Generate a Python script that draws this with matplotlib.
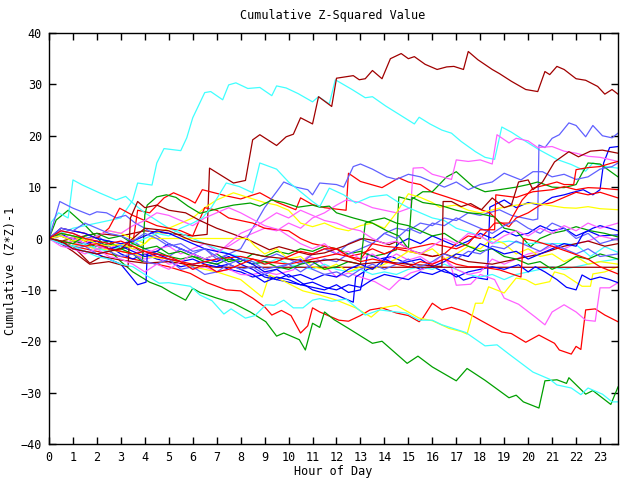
import matplotlib
matplotlib.use("Agg")
import matplotlib.pyplot as plt

plt.rcParams['font.family'] = ['DejaVu Sans Mono']

# colours used by the plotting program
RED = '#ff0000'
GREEN = '#00a000'
BLUE = '#0000ff'
MAGENTA = '#ff60ff'
CYAN = '#40ffff'
DKRED = '#a00000'
YELLOW = '#ffff00'
SLATE = '#6060ff'

title = 'Cumulative Z-Squared Value'
xlabel = 'Hour of Day'
ylabel = 'Cumulative (Z*Z)-1'
xticks = list(range(0, 24))
yticks = [-40, -30, -20, -10, 0, 10, 20, 30, 40]

# (hour, value) pairs, one list per walk
dr_top = [(0,0),(0.5,-0.5),(1,0),(2,1),(3,0.5),(4,1.5),(5,1),(6,0.5),(6.6,0.8),(6.7,13.7),(7.7,10.8),(8.2,11.3),
          (8.5,19.2),(8.8,20.2),(9.5,18.1),(9.9,19.8),(10.2,20.3),(10.5,23.5),(11,22.3),(11.25,27.6),(11.8,25.7),
          (12,31.2),(12.7,31.7),(12.95,30.9),(13.2,31.1),(13.5,32.7),(13.9,31.1),(14.25,35),(14.7,36),(15,35),
          (15.25,35.4),(15.7,33.9),(16.2,32.9),(16.6,33.4),(16.9,33.5),(17.3,32.9),(17.5,36.4),(17.9,34.8),
          (18.5,32.9),(18.8,32.1),(19.3,30.6),(19.9,29),(20.4,28.6),(20.7,32.5),(20.9,31.9),(21.2,33.5),
          (21.5,32.9),(22,31.1),(22.4,30.8),(22.9,29.6),(23.2,28.1),(23.5,29),(23.75,28.1)]
dr_flat = [(0,0),(0.5,-0.8),(1,-1.5),(1.7,-4.8),(2.2,-3.5),(3,-4.2),(4,-4.8),(5,-4.5),(6,-5.2),(7,-5.6),(23.75,-5.6)]
dr_jump = [(0,0),(0.5,-1),(1,-2.5),(1.7,-5),(2.5,-4.5),(3.3,-5.5),(3.4,4),(3.7,7.2),(4,6),(4.5,6.5),(5,5.5),
           (5.7,5),(6.3,3.5),(7,2),(7.6,1),(8.35,-0.3),(9.2,-2.2),(9.6,-1.6),(10.3,-2.5),(10.9,-3.2),(11.5,-2.8),
           (12.3,-1.5),(13.1,0),(13.7,-0.5),(14.2,-1.2),(14.5,-0.6),(15.2,-2.5),(16,-3.5),(16.5,-3),(17.5,-4.5),
           (18.5,-5),(19.5,-4),(20.5,-3),(21.5,-1.5),(22.5,-0.5),(23.2,-1.5),(23.75,-1)]
dr_late = [(0,0),(0.5,-0.5),(1,-2),(2,-3),(3,-2),(3.5,0),(4,2),(5,1.5),(6,-0.5),(7,-1.5),(8,-2.5),(9,-3.5),
           (10,-4),(11,-4.5),(12,-4),(13,-5),(14,-4.5),(15,-5),(16,-5.3),(16.4,-5.5),(16.45,7.2),(16.8,7.2),
           (17.2,6.2),(17.6,6.8),(18.05,5.6),(18.5,7.9),(19,6),(19.3,6.5),(19.6,11),(20,11.4),(20.2,9.5),
           (20.6,11),(21.1,14.9),(21.7,16.9),(22.1,15.9),(22.6,17),(23.1,17.2),(23.75,16.6)]

r_low = [(0,0),(1,-1.5),(2,-2.5),(3,-3.5),(4,-4.5),(5,-5.5),(5.9,-6.8),(6.6,-8.6),(7.4,-10),(8,-10.2),(8.5,-11.6),
         (9,-13.3),(9.3,-14.9),(9.7,-14),(10.1,-15),(10.5,-18.4),(10.8,-17),(11,-13.5),(11.3,-14.3),(12.1,-15.9),
         (12.5,-16.1),(13,-15),(13.4,-13.9),(13.9,-13.5),(14.5,-14.5),(15,-15),(15.45,-16.2),(15.6,-15.5),
         (16,-12.6),(16.4,-13.9),(16.8,-13.4),(17.4,-14.3),(18,-15.9),(18.9,-18.2),(19.3,-18.5),(19.9,-20.2),
         (20.45,-18.8),(21.1,-20.4),(21.3,-21.7),(21.8,-22.5),(22.0,-21),(22.2,-21.6),(22.4,-13.9),(22.8,-13.7),
         (23.2,-14.9),(23.75,-16.2)]
r_mid = [(0,0),(0.5,1),(1,0.5),(1.5,-0.5),(2,-1.5),(2.5,-2),(3,-2),(3.5,-1),(3.7,5.5),(4.2,5),(4.8,7.9),(5.2,8.9),
         (5.8,7.7),(6.1,6.9),(6.4,9.5),(7.4,8.3),(8,7.7),(8.8,8.9),(9.5,7.1),(10.3,5.6),(10.5,7.9),(11,6.6),
         (11.5,6),(12.4,5.5),(12.5,12.7),(13,11.1),(13.9,9.9),(14.6,11.8),(15,11),(15.5,10.5),(16,9),(16.6,8.1),
         (17.3,7),(17.8,6),(18.4,5),(18.8,3.2),(19.2,2.3),(19.5,4),(20,5),(20.5,6.5),(21,7),(21.5,8),(22,9),
         (22.5,8.5),(23,9),(23.75,7.9)]
r_15 = [(0,0),(0.5,2),(1,1.5),(1.5,1),(2,0),(2.5,2),(2.95,5.9),(3.5,4.5),(4,3.5),(4.5,2.5),(5,2),(5.5,1.5),
        (6,0.5),(6.5,6),(7,5.5),(7.5,4),(8,3.5),(8.5,3),(9,2),(10,1.5),(10.5,0),(11,-1),(12,-2),(12.5,-3.5),
        (13,-3),(13.5,-2),(14,-3),(14.5,-2),(15,-2.5),(15.5,-3),(16,-3.5),(16.5,-3),(17,-1),(17.5,0.5),(18,0),
        (18.6,3),(19.2,3),(19.75,7.5),(20.2,9.8),(20.8,10.5),(21.2,11),(21.5,10.5),(21.9,10.5),(22,13.4),
        (22.5,13.8),(23,14),(23.5,14.7),(23.75,15)]
r_9 = [(0,0),(0.5,-0.5),(1,-1),(1.5,-1.5),(2,-1),(2.5,-2),(3,-2.5),(3.5,-3),(4,-2.5),(4.5,-3.5),(5,-4),
       (5.5,-4.5),(6,-5),(7,-4),(8,-3.5),(9,-4.5),(10,-5),(11,-4),(12,-3),(13,-4),(13.5,-1),(14,-1.5),(15,-2),
       (16,-1),(17,-2),(17.5,-1),(18,1.7),(18.6,1.7),(18.65,8.5),(19.5,8),(20.2,9.1),(21,9.5),(21.5,10.1),
       (22,9.5),(22.5,9.9),(23,9.8),(23.75,9.5)]
r_m7 = [(0,0),(0.5,1.5),(1,1),(1.5,0),(2,-0.5),(2.5,-1),(3,-0.5),(3.5,-1.5),(4,-2.5),(4.5,-3),(5,-3.5),
        (5.5,-4.5),(6,-6),(6.5,-5),(7,-6.5),(7.5,-6),(8,-5),(8.5,-4),(9,-5),(9.5,-4.5),(10,-3.5),(10.5,-2.5),
        (11,-3),(11.5,-2),(12,-2),(12.5,-3.5),(13,-4.5),(13.5,-4),(14,-4.5),(14.5,-5),(15,-5.5),(15.5,-4.5),
        (16,-5),(16.5,-4),(17,-5),(17.5,-5.5),(18,-5.5),(18.8,-6.1),(19.7,-7.5),(19.8,0),(20.3,-0.5),(21,-1.5),
        (21.8,-2.8),(22.5,-4),(23,-5.5),(23.75,-6.9)]

g_bot = [(0,0),(0.3,3.6),(0.8,5.5),(1.5,2.6),(2.1,-0.3),(3,-4.5),(3.5,-6.5),(4.2,-8.5),(4.7,-9.4),(5.1,-10.5),
         (5.7,-12),(6,-9.7),(6.3,-10.5),(7,-11.6),(7.7,-12.6),(8.4,-14.3),(9.05,-16.2),(9.5,-19),(9.8,-18.4),
         (10.45,-19.7),(10.7,-21.7),(11,-16.5),(11.3,-17.3),(11.5,-14.3),(11.9,-15.8),(12.5,-17.5),(13.5,-20.4),
         (13.9,-20),(14.95,-24.3),(15.4,-22.9),(16,-25),(17,-27.7),(17.45,-25.3),(18.2,-27.6),(19.2,-31),
         (19.5,-30.5),(19.8,-31.8),(20.45,-33),(20.7,-27.7),(21.2,-27.5),(21.6,-28.2),(21.7,-27.1),(22.4,-30.3),
         (22.7,-29.6),(23.45,-32.3),(23.75,-28.9)]
g_12 = [(0,0),(0.5,0.5),(1,-0.5),(1.5,-1),(2,-1.5),(2.5,-1),(3,-2),(3.5,-1.5),(4,-3),(4.5,-2.5),(5,-3.5),
        (5.5,-4),(6,-3.5),(6.5,-4.5),(7,-5),(7.5,-4),(8,-4.5),(8.5,-3),(9,-3.5),(9.5,-2.5),(10,-3),(10.5,-2),
        (11,-2.5),(11.5,-1.5),(12,-2),(12.5,-3),(13,-2.5),(13.5,-3.5),(14,-3),(14.5,-2.2),(14.6,8.1),(15.1,7.5),
        (15.6,9.1),(16,9.1),(16.6,12),(17,13),(17.7,10.1),(18.2,9.1),(18.8,9.5),(19.5,10),(20,10.5),(20.4,11),
        (21,10),(21.5,9.9),(22,10.5),(22.25,12.7),(22.5,14.7),(23,14.5),(23.3,13.5),(23.75,12)]
g_up = [(0,0),(0.5,1),(1,0.5),(1.5,0),(2,-1),(2.5,-0.5),(3,-2),(3.5,-3),(3.9,-4.5),(4,4.6),(4.1,6.5),(4.5,8.1),
        (4.9,8.5),(5.3,8),(5.8,6.3),(6.3,4.9),(6.8,5.5),(7.2,6),(7.7,6.5),(8.4,6.9),(8.8,6.3),(9.3,7.5),(9.8,7),
        (10.4,6.1),(11,6.5),(11.3,6.1),(11.7,6.3),(12,5),(12.7,4),(13.5,3),(14.1,1.5),(14.6,0.5),(15,-2),
        (15.15,8),(15.6,7),(16.3,6.5),(17,5.5),(17.5,5),(18,4.8),(18.6,4.2),(19,2),(19.5,1.5),(20.1,-1.6),
        (20.5,0),(21,1),(21.5,1.5),(22,2.3),(22.6,1.5),(23.2,1),(23.75,0.3)]
g_4 = [(0,0),(0.5,-0.5),(1,-1),(1.5,0.5),(2,1),(2.5,0),(3,0.5),(3.5,-1),(4,-2),(4.5,-1.5),(5,-3),(5.5,-2.5),
       (6,-3.5),(6.5,-4),(7,-3),(7.5,-4.5),(8,-4),(8.5,-5),(9,-4.5),(9.5,-5.5),(10,-6),(10.5,-5),(11,-4.5),
       (11.5,-6),(12,-5.5),(12.5,-4.5),(13,-5),(13.2,3),(13.5,3.5),(14,4),(14.5,3),(15,2.5),(15.5,1.5),(16,0.5),
       (16.5,1),(17,-0.5),(17.5,-1.5),(18,-2.5),(18.5,-2),(19,-3.5),(19.5,-4),(20,-5),(20.5,-4.5),(21,-6),
       (21.5,-5),(22,-3.5),(22.5,-4),(23,-3),(23.75,-4)]

b_18 = [(0,0),(0.5,1),(1,-0.5),(1.5,-1),(2,-2),(2.5,-1.5),(3,-3),(3.5,-4),(4,-3),(4.5,-4),(5,-4.5),(5.5,-5.5),
        (6,-5),(6.5,-4.5),(7,-5),(7.5,-6),(8,-6.5),(8.5,-7.5),(9,-7),(9.5,-8),(10,-8.5),(10.5,-9),(11,-9.5),
        (11.5,-10),(12,-9),(12.5,-10.5),(13,-10),(13.3,-3),(13.8,-4),(14.3,-3.5),(15,-5),(15.5,-6),(16,-5.5),
        (16.5,-6.5),(17,-7),(17.3,-8.1),(17.7,-7.5),(18.3,-8),(18.4,6.1),(19,7.5),(19.5,6),(20,7),(20.5,6.5),
        (21,8),(21.5,8.5),(21.8,8.9),(22.3,9.5),(22.7,8.5),(23,9.5),(23.15,14.7),(23.4,17.7),(23.75,17.9)]
b_1 = [(0,0),(0.5,-1),(1,-2),(1.5,-2.5),(2,-3),(2.5,-4),(3,-5),(3.7,-9),(4.05,-8.5),(4.1,-3),(4.5,-2.5),(5,-1),
       (5.5,-2),(6,-3),(6.5,-4),(7,-4.5),(7.5,-3.5),(8,-5),(8.5,-6),(9,-7.5),(9.5,-8),(10,-7),(10.5,-8.5),
       (11,-10),(11.3,-10.4),(12,-11),(12.7,-12.4),(12.8,-7.5),(13.3,-6),(13.8,-5.5),(14.2,-3),(14.6,-1),(15,0),
       (15.5,-1),(16,0.5),(16.5,-0.5),(17,-1.5),(17.5,-0.5),(18,1),(18.5,0),(19,1.5),(19.5,0.5),(20,1),
       (20.5,2.5),(21,1.5),(21.5,2),(22,0.5),(22.5,1.5),(23,0.5),(23.75,0.7)]
b_m9 = [(0,0),(0.5,0.5),(1,0),(1.5,-1),(2,-0.5),(2.5,-2),(3,-1.5),(3.5,-2.5),(4,-3.5),(4.5,-3),(5,-4),(5.5,-4.5),
        (6,-4),(6.5,-5),(7,-5.5),(7.5,-5),(8,-6),(8.5,-7),(9,-8.5),(9.5,-7.5),(10,-8),(10.5,-9),(11,-8.5),
        (11.5,-9.5),(12,-10),(12.5,-9),(13,-9.5),(13.5,-8),(14,-7),(14.5,-7.5),(15,-8),(15.5,-6.5),(16,-7),
        (16.5,-6),(17,-7.5),(17.5,-6.5),(18,-6),(18.5,-5.5),(19,-6),(19.6,-5.1),(20,-6.5),(20.3,-5.5),(20.7,-6.5),
        (21.2,-8),(21.6,-9.5),(22,-10),(22.25,-7.1),(22.6,-8),(23,-7.5),(23.4,-8),(23.75,-8.6)]
b_4 = [(0,0),(0.5,2),(1,1.5),(1.5,1),(2,0),(2.5,-0.5),(3,-1),(3.5,-0.5),(4,0.5),(4.5,1.5),(5,1),(5.5,0),(6,-1),
       (6.5,-2),(7,-2.5),(7.5,-3),(8,-4),(8.5,-5),(9,-6.5),(9.5,-6),(10,-7.5),(10.5,-7),(11,-8),(11.5,-7),
       (12,-7.5),(12.5,-6),(13,-5),(13.5,-6),(14,-4),(14.5,-5),(15,-4.5),(15.5,-4),(16,-5.5),(16.5,-4.5),(17,-3),
       (17.5,-3.5),(18,-1),(18.5,-2),(19,-3),(19.5,-2.5),(20,-4),(20.5,-3),(21,-2),(21.5,-1),(22,-1.5),(22.3,1),
       (22.7,2),(23,2.5),(23.4,2),(23.75,1.5)]

m_low = [(0,0),(0.5,-1),(1,-0.5),(1.5,-1.5),(2,-2),(2.5,-1),(3,-2.5),(3.5,-3),(4,-4),(4.5,-3.5),(5,-5),
         (5.5,-4.5),(6,-6),(6.5,-5.5),(7,-6.5),(7.5,-6),(8,-7),(8.4,-7.1),(9,-6.5),(9.5,-7),(10.2,-6.1),
         (10.8,-3.5),(11.2,-4),(12,-7.5),(12.5,-6.7),(13,-7.5),(13.6,-8.4),(14.2,-10),(14.6,-8.2),(15.1,-6.7),
         (15.6,-6),(16,-5),(16.4,-3.2),(16.8,-5.7),(17,-9.1),(17.6,-8.9),(18,-7),(18.6,-8),(19,-11.6),(19.6,-12.8),
         (20.3,-15.3),(20.7,-16.8),(21,-14.3),(21.5,-12.9),(22,-14.3),(22.4,-15.9),(22.8,-16.1),(23,-9.6),
         (23.4,-9.6),(23.75,-8.6)]
m_up = [(0,0),(0.5,-0.5),(1,-1),(1.5,0),(2,-1.5),(2.5,-2),(3,-1),(3.5,-2),(4,-3),(4.5,-2),(5,-1.5),(5.5,-3),
        (6,-2),(6.5,-1),(7,-2.5),(7.5,-1.5),(8,0),(8.5,1),(9,2),(9.5,1.5),(10,3),(10.5,2),(11,4),(11.5,5),
        (12,6.5),(12.4,7.5),(13,7),(13.5,6),(14,5.5),(14.5,5),(15.1,6),(15.2,13.7),(15.6,13.8),(16,12.5),
        (16.8,11.5),(17,15.3),(17.5,15),(18,15.3),(18.5,14.5),(18.7,20.2),(19.2,18.6),(19.5,19.5),(20,19),
        (20.4,17.7),(21,17.9),(21.5,17),(22,16.6),(22.5,16),(23,15.8),(23.75,15)]
m_3 = [(0,0),(0.5,0.5),(1,0),(1.5,-1),(2,0.5),(2.5,1.5),(3,1),(3.5,2.5),(4,3.5),(4.5,5),(5,4.5),(5.5,3.5),
       (6,2.5),(6.5,4),(7,5),(7.5,6),(8,5),(8.6,3.5),(9,2.5),(9.6,1.7),(10,0.5),(10.5,-1),(11,-2),(11.5,-1),
       (12,-3),(12.5,-2.5),(13,-4),(13.5,-3),(14,-4.5),(14.5,-3),(15,-4.2),(15.5,-3.5),(16,-5),(16.5,-4),(17,-6),
       (17.5,-7),(18,-6.5),(18.5,-4),(19,-5),(19.5,-4),(20,-3),(20.5,-2.5),(21,-1.5),(21.5,-2),(22,-1),
       (22.5,-0.5),(23,0.5),(23.75,-0.3)]
m_4 = [(0,0),(0.5,-1.5),(1,-2),(1.5,-3),(2,-2),(2.5,-3.5),(3,-4),(3.5,-5),(4,-6.5),(4.5,-5),(5,-6),(5.5,-4.5),
       (6,-3),(6.5,-4),(7,-3),(7.5,-1),(8,1),(8.5,2),(9,3.5),(9.5,5),(10,4),(10.5,5.5),(11,4.5),(11.5,3.5),
       (12,3),(12.5,2),(13,1.5),(13.5,0),(14,-1),(14.5,-0.5),(15,-2),(15.5,-3),(16,-1.5),(16.5,0),(17,-1),
       (17.5,1),(18,0.5),(18.5,-1),(19,0.5),(19.5,1.5),(20,0.5),(20.5,2),(21,1),(21.5,2.5),(22,1.5),(22.5,3),
       (23,2),(23.75,3)]

c_top = [(0,0),(1,2),(2,3),(3,4),(3.5,7.5),(3.7,10.8),(4.3,10.4),(4.5,14.7),(4.8,17.5),(5.5,17.1),(5.75,19.6),
         (6,23.5),(6.5,28.4),(6.75,28.6),(7.25,27),(7.5,29.9),(7.8,30.3),(8.3,29.2),(8.8,29.4),(9.3,27.8),
         (9.5,29.7),(9.9,29.3),(10.4,28.2),(11,26.6),(11.25,27.6),(11.7,26.2),(11.95,30.9),(12.65,29),(13.2,27.4),
         (13.5,27.6),(14.05,25.8),(14.6,24.2),(15.25,22.3),(15.45,23.6),(15.9,22.3),(16.4,21.1),(16.8,20.5),
         (17.2,18.9),(17.8,16.9),(18.2,15.8),(18.6,15.4),(18.9,21.7),(19.3,20.7),(19.9,18.9),(20.45,17.3),
         (21.2,15.4),(21.8,14.4),(22.4,13.1),(22.7,14.7),(23.2,14),(23.75,13.7)]
c_2 = [(0,0),(0.1,3.2),(0.4,5),(0.8,4),(1,11.4),(1.4,10.4),(2.1,8.9),(2.8,7.5),(3.2,8.2),(3.5,6.9),(4,5),
       (4.5,3.5),(5,2),(5.5,1),(6,0),(6.5,-1),(7,-2),(7.5,-3),(8,-3.5),(8.5,-4.5),(9,-5),(9.5,-4),(10,-5),
       (10.5,-5.5),(11,-6),(11.5,-5),(12,-6),(12.5,-6.5),(13,-6),(13.5,-7),(14,-6.5),(14.5,-7),(15,-6),
       (15.5,-5.5),(16,-6),(16.5,-5),(17,-6),(17.5,-7),(18,-7.5),(18.5,-7),(19,-8),(19.5,-7),(20,-6.5),
       (20.5,-6),(21,-5.5),(21.5,-6),(22,-5.5),(22.5,-5),(23,-4.5),(23.75,-4)]
c_3 = [(0,0),(0.5,-1),(1,-1.5),(1.5,-1),(2,-2),(2.5,-2.5),(3,-1.5),(3.5,-1),(4,0),(4.5,1),(5,0.5),(5.5,2),
       (6,3),(6.4,4),(6.8,6.2),(7.4,10.8),(7.95,10.1),(8.5,8.9),(8.8,14.7),(9.5,13.5),(10,11),(10.5,9.1),
       (11,7.2),(11.3,6.2),(11.7,9.8),(12.3,8.5),(12.8,6.9),(13.4,8.1),(14.1,8.5),(14.6,7),(15,6),(15.5,5),
       (16,4),(16.5,3.5),(17,2),(17.7,1),(18.6,-0.9),(19.2,-0.5),(19.8,-1),(20.45,-0.9),(21,-1),(21.5,-1),
       (22,-1.2),(22.6,-3.5),(23.2,-1.6),(23.75,-2.7)]
c_bot = [(0,0),(0.5,-1),(1,-1.5),(1.5,-2.5),(2,-3.5),(2.5,-4),(3,-5),(3.5,-5.5),(4,-7),(4.6,-8.7),(5,-8.6),
         (5.5,-9),(5.9,-9.3),(6.3,-11),(6.8,-12.1),(7.3,-14.7),(7.6,-13.7),(8.2,-15.5),(8.6,-15),(9.05,-12.9),
         (9.4,-13),(9.8,-12),(10.2,-13.5),(10.6,-13.5),(11,-12),(11.3,-11.7),(11.8,-12.2),(12.4,-11.8),
         (13.2,-14.9),(13.8,-13.9),(14.5,-14.3),(14.9,-14.5),(15.45,-15.9),(16,-15.9),(16.4,-16.8),(17.4,-18.3),
         (18.2,-20.9),(18.7,-20.7),(19.2,-22.5),(20.2,-26),(20.9,-27.4),(21.2,-28.5),(21.8,-29.1),(22.2,-30.4),
         (22.5,-29.1),(23.1,-30.3),(23.5,-31.8),(23.75,-31.8)]

y_low = [(0,0),(1,-1),(2,-2),(3,-2.5),(4,-3.5),(5,-4),(6,-5.5),(7,-6.5),(8,-8),(8.9,-11.4),(9.2,-7.1),(9.8,-8.3),
         (10.6,-10.2),(11.3,-11),(12,-12),(12.8,-13.5),(13.45,-15.3),(13.9,-13.5),(14.5,-13),(15.45,-15.5),
         (16,-16),(16.7,-17.5),(17.2,-18.1),(17.45,-18.6),(17.8,-12.6),(18.1,-12.6),(18.35,-9.4),(19,-10.6),
         (19.5,-7.7),(19.9,-8),(20.3,-9),(20.9,-8.4),(21.1,-6.5),(21.5,-7),(22.25,-9.3),(22.6,-9.3),(22.7,-6.9),
         (23.2,-6.5),(23.75,-5.5)]
y_6 = [(0,0),(0.5,1),(1,0.5),(1.5,-0.5),(2,0.5),(2.5,1.5),(3,1),(3.5,0),(4,-1),(4.5,1),(5,2),(5.5,3),(6,4),
       (6.5,6),(7,7.5),(7.7,8.9),(8.3,8),(9,7),(9.5,6.5),(10,5.5),(10.5,3),(11,2.3),(11.5,3),(12,2),(12.5,1.5),
       (13,2.5),(13.5,3),(14,2),(14.5,5),(15,8.7),(15.5,8),(16,7),(16.3,6.1),(17,6.5),(17.5,5.5),(18,5),
       (18.8,5.9),(19.5,6.5),(20.2,6.9),(20.8,6.5),(21.5,6),(22,5.9),(22.5,6.2),(23,5.8),(23.75,5.6)]
y_0 = [(0,0),(0.5,0.5),(1,-0.5),(1.5,0),(2,-1),(2.5,-1.5),(3,-1),(3.5,-2),(4,-1),(4.2,0),(8.3,0),(8.6,-1.5),
       (9,-3),(9.5,-2),(10,-4),(10.5,-3.5),(11,-5.5),(11.5,-6),(12,-5),(12.5,-6.5),(13,-5.5),(13.5,-6),(14,-5),
       (14.5,-4),(15,-2.5),(15.5,-3),(16,-2),(16.5,-4),(17,-3),(17.5,-1.5),(18,-2),(18.5,0),(19,-1),(19.5,-3),
       (20,-2),(20.5,-3.5),(21,-3),(21.5,-4.5),(22,-3.5),(22.5,-5),(23,-4.5),(23.75,-5)]

sb_20 = [(0,0),(0.5,1.5),(1,1),(1.5,0),(2,0.5),(2.5,-1),(3,-1.5),(3.5,-0.5),(4,-2),(4.5,-3),(5,-3.5),(5.5,-2),
         (6,-3),(6.5,-4),(7,-4.5),(7.5,-3),(8,-4),(8.5,-5),(9,-4),(9.5,-3),(10,-4),(10.5,-5),(11,-3),(11.5,-2),
         (12,-3),(12.5,-1),(13,0),(13.5,-1),(14,1),(14.5,2),(15,1.5),(15.5,3),(16,2.5),(16.5,4),(17,3.5),(17.5,5),
         (18,4.5),(18.8,5.6),(19.3,4.5),(20.2,3.6),(20.4,3.8),(20.45,18.2),(20.7,17.7),(21,19.5),(21.3,20.2),
         (21.7,22.5),(22,22),(22.4,19.8),(22.7,22),(23.1,20),(23.5,19.6),(23.75,20.5)]
sb_15 = [(0,0),(0.45,7.2),(1,5.9),(1.7,4.6),(2,5.2),(2.4,5),(2.8,4),(3.2,4.5),(3.6,3),(4,2),(4.5,0.5),(5,-1),
         (5.5,-2),(6,-3),(6.5,-2),(7,-4),(7.5,-3),(8,-2),(8.5,2),(9,6),(9.5,9.1),(9.8,11),(10.3,10),(10.8,9.5),
         (11,8.5),(11.3,10.8),(12,10.5),(12.3,10),(12.7,14),(13,14.5),(13.5,13.5),(14.1,12),(14.5,11.5),(15,12.5),
         (15.5,12),(16,11),(16.5,10),(17,11),(17.5,9.5),(18,10.5),(18.5,11),(19,12.7),(19.7,11.4),(20.2,13),
         (20.6,13),(21,12),(21.5,12.5),(22,11.5),(22.5,12),(23,13.5),(23.5,14),(23.75,14.7)]
sb_x = [(0,0),(0.5,-1),(1,-2),(1.5,-1.5),(2,-3),(2.5,-2.5),(3,-3.5),(3.5,-3),(4,-4.5),(4.5,-5),(5,-4),(5.5,-6),
        (6,-5.5),(6.5,-7),(7,-6.5),(7.5,-5),(8,-6),(8.5,-5.5),(9,-7),(9.5,-6),(10,-5),(10.5,-6.5),(11,-5),
        (11.5,-4),(12,-4.5),(12.5,-3),(13,-2),(13.5,-1),(14,1),(14.5,0),(15,2),(15.5,1),(16,3),(16.5,2.5),(17,4),
        (17.5,3),(18,2),(18.5,1),(19,2.5),(19.5,3.5),(20,2),(20.5,1),(21,3),(21.5,2),(22,0),(22.5,1),(23,-1),
        (23.75,0)]
sb_y = [(0,0),(0.5,2),(1,1.5),(1.5,3),(2,2),(2.5,1),(3,0.5),(3.5,-0.5),(4,1),(4.5,0),(5,-1.5),(5.5,-1),(6,-2.5),
        (6.5,-2),(7,-3.5),(7.5,-5),(8,-4),(8.5,-4.5),(9,-6),(9.5,-5.5),(10,-5),(10.5,-4),(11,-6),(11.5,-7),
        (12,-6.5),(12.5,-7.5),(13,-6),(13.5,-5),(14,-6),(14.5,-5),(15,-4),(15.5,-5.5),(16,-4.5),(16.5,-3),(17,-4),
        (17.5,-2.5),(18,-3),(18.5,-1.5),(19,-2),(19.5,-0.5),(20,-1.5),(20.5,-2.5),(21,-1),(21.5,-2),(22,-3),
        (22.5,-2),(23,-3.5),(23.75,-3)]

series = [
    (RED, r_low), (GREEN, g_bot), (BLUE, b_18), (MAGENTA, m_low), (CYAN, c_top), (DKRED, dr_top), (YELLOW, y_low), (SLATE, sb_20),
    (RED, r_mid), (GREEN, g_12), (BLUE, b_1), (MAGENTA, m_up), (CYAN, c_2), (DKRED, dr_flat), (YELLOW, y_6), (SLATE, sb_15),
    (RED, r_15), (GREEN, g_up), (BLUE, b_m9), (MAGENTA, m_3), (CYAN, c_3), (DKRED, dr_jump), (YELLOW, y_0), (SLATE, sb_x),
    (RED, r_9), (GREEN, g_4), (BLUE, b_4), (MAGENTA, m_4), (CYAN, c_bot), (DKRED, dr_late), (SLATE, sb_y), (RED, r_m7),
]

fig = plt.figure(figsize=(6.4, 4.8), dpi=100)
ax = fig.add_axes([49/640, 36/480, 569/640, 411/480])

for col, pts in series:
    xs = [p[0] for p in pts]
    ys = [p[1] for p in pts]
    ax.plot(xs, ys, color=col, lw=0.9)

ax.set_xlim(0, 23.75)
ax.set_ylim(-40, 40)
ax.set_xticks(xticks)
ax.set_yticks(yticks)
ax.tick_params(direction='in', top=True, right=True, length=5, width=1,
               labelsize=8.5, pad=5, colors='black')
for s in ax.spines.values():
    s.set_linewidth(1.0)
    s.set_color('black')

fig.text(333/640, 1 - 16/480, title, ha='center', va='center', fontsize=8.5)
fig.text(333/640, 1 - 471/480, xlabel, ha='center', va='center', fontsize=8.5)
fig.text(11/640, 1 - 271/480, ylabel, ha='center', va='center', rotation=90, fontsize=8.5)

fig.savefig('out.png', dpi=100)
